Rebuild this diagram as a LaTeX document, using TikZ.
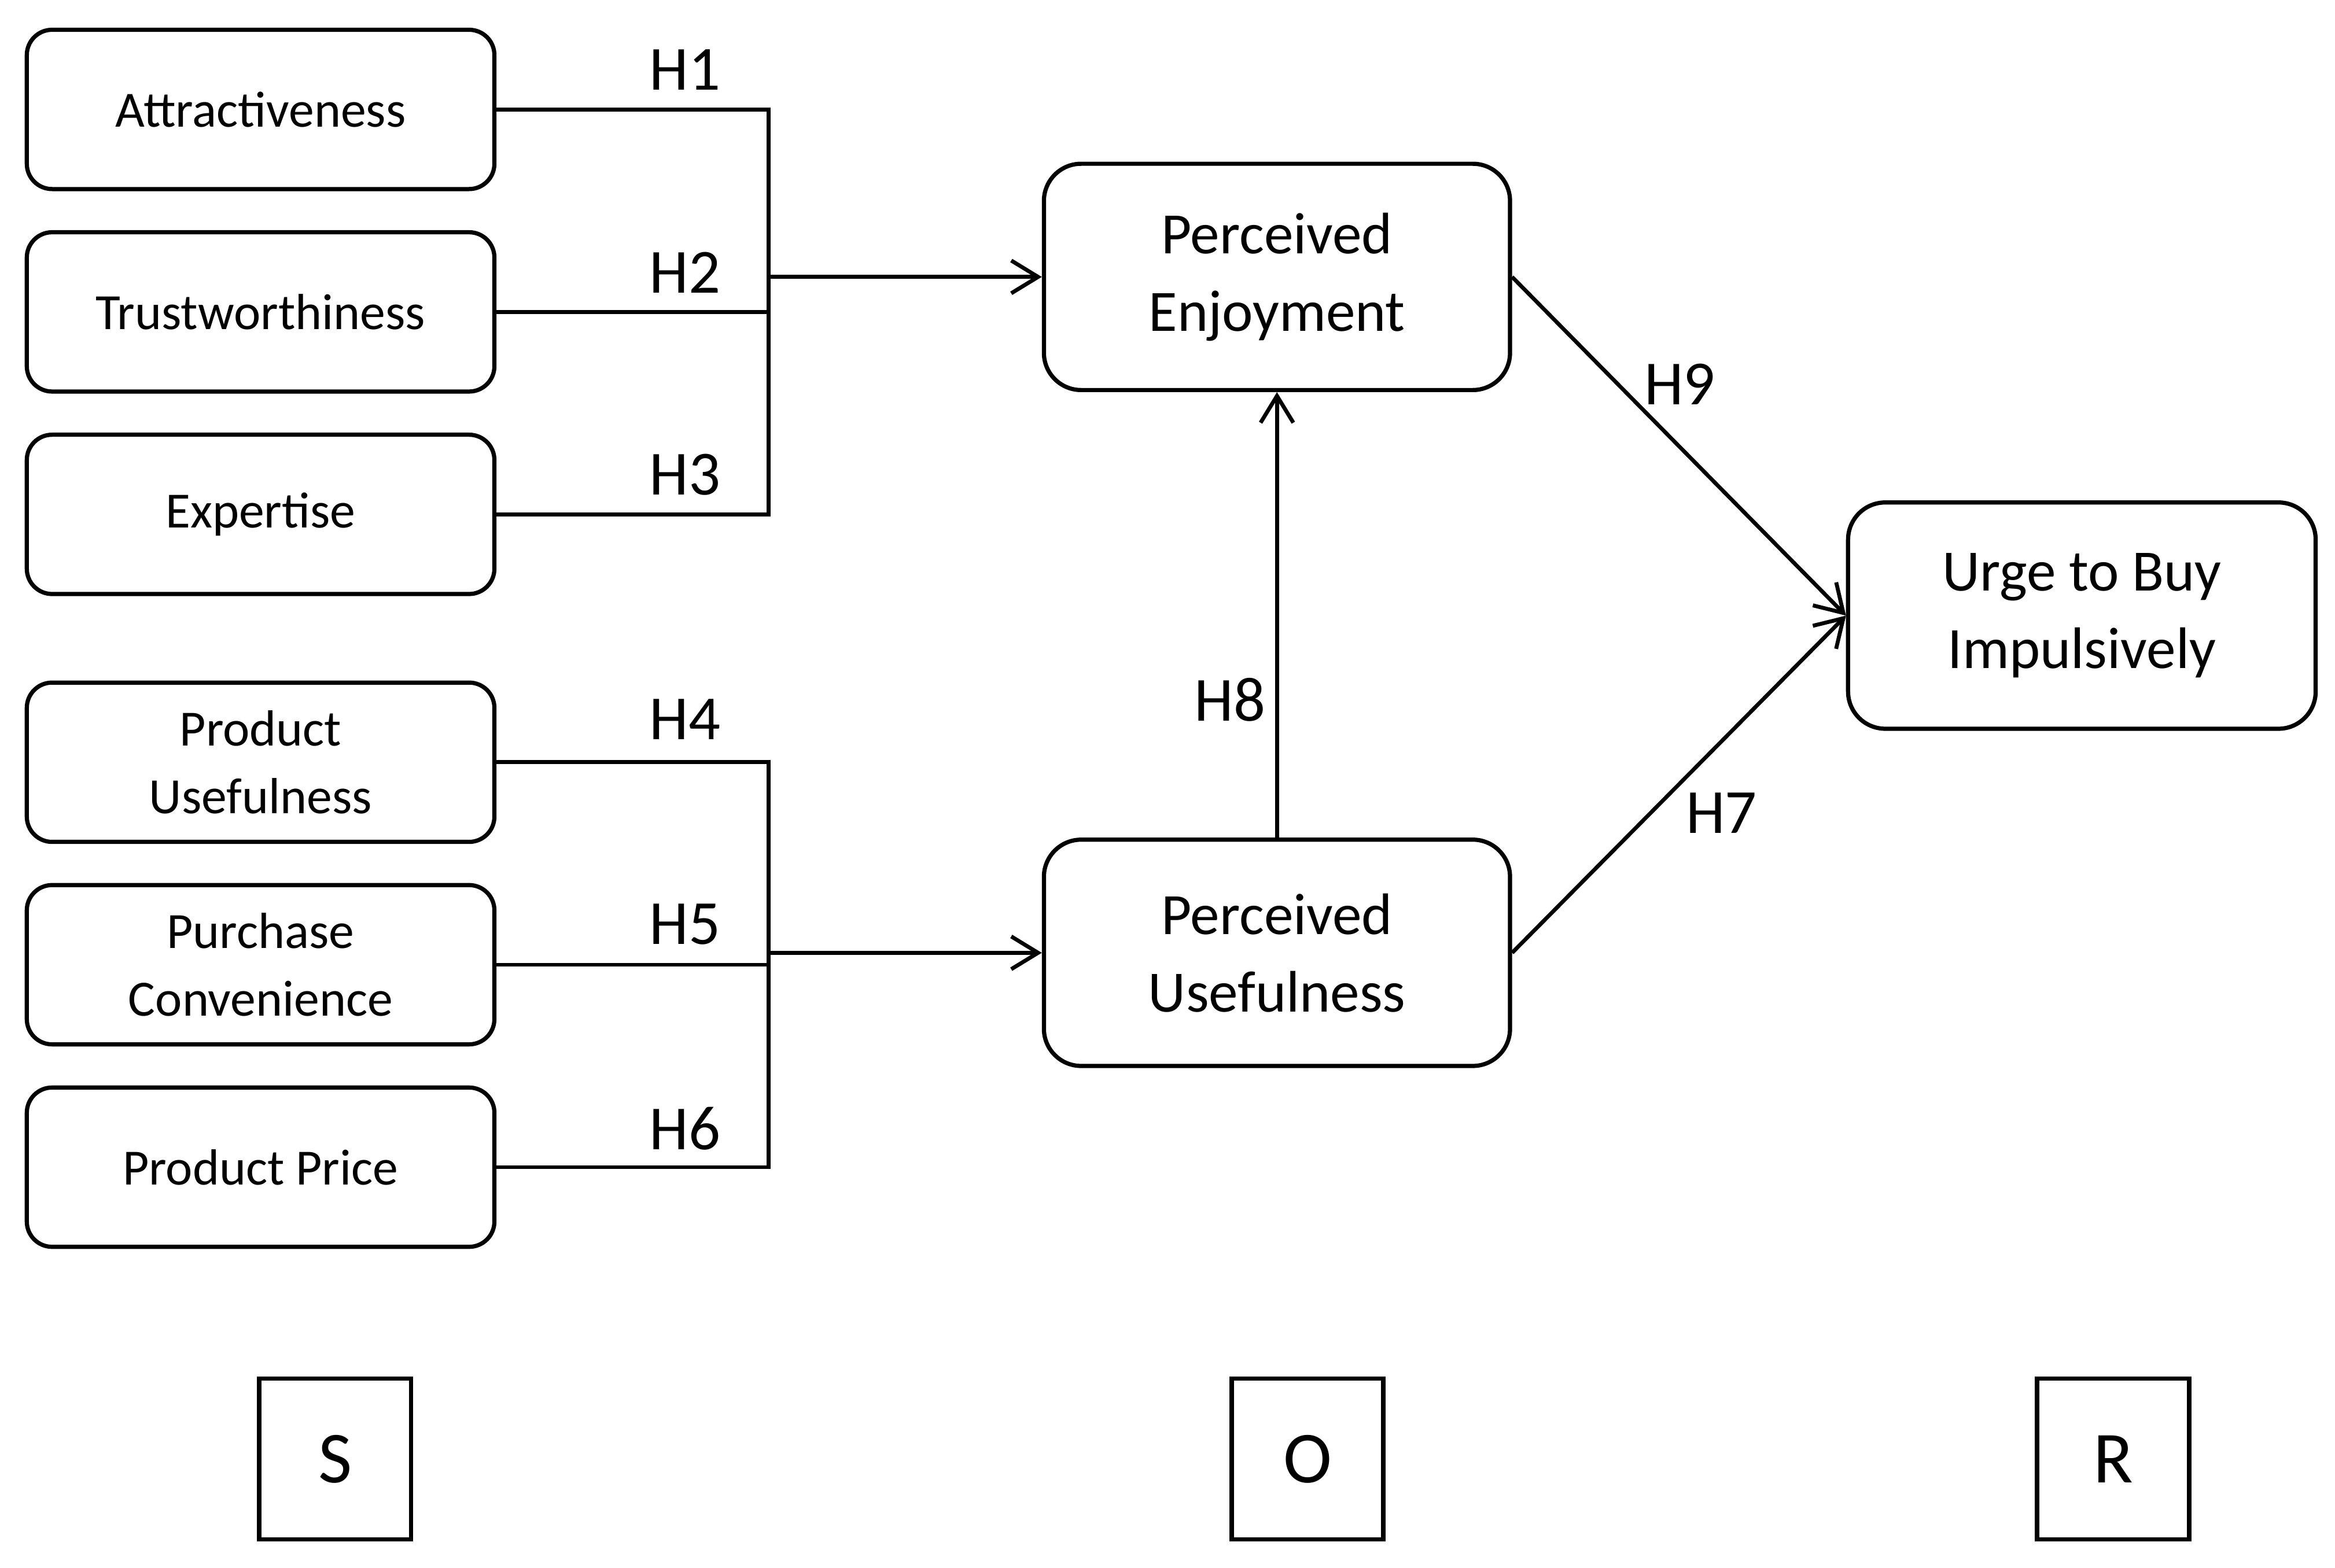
\documentclass[tikz,border=0pt]{standalone}
\usepackage{fontspec}
\setmainfont{Carlito}
\usetikzlibrary{arrows.meta}
\begin{document}
\begin{tikzpicture}[
  smallbox/.style={draw, line width=0.8pt, rounded corners=0.17cm, minimum width=3.14cm, minimum height=1.07cm, align=center, inner sep=0pt, font=\fontsize{9.7}{13}\selectfont},
  bigbox/.style={draw, line width=0.8pt, rounded corners=0.25cm, minimum width=3.13cm, minimum height=1.52cm, align=center, inner sep=0pt, font=\fontsize{11.2}{14.8}\selectfont},
  letterbox/.style={draw, line width=0.85pt, minimum width=1.02cm, minimum height=1.08cm, inner sep=0pt, font=\fontsize{14}{16}\selectfont},
  hlabel/.style={inner sep=0pt, font=\fontsize{12}{14}\selectfont},
  link/.style={line width=0.75pt},
  arr/.style={line width=0.75pt, -{Straight Barb[length=1.8mm, width=2.2mm, line width=0.75pt]}}
]
\useasboundingbox (0,0) rectangle (15.68,10.53);

% stimulus boxes
\node[smallbox] (A) at (1.75,9.795) {Attractiveness};
\node[smallbox] (B) at (1.75,8.435) {Trustworthiness};
\node[smallbox] (C) at (1.75,7.075) {Expertise};
\node[smallbox] (D) at (1.75,5.41) {Product\\Usefulness};
\node[smallbox] (E) at (1.75,4.05) {Purchase\\Convenience};
\node[smallbox] (F) at (1.75,2.69) {Product Price};

% organism and response boxes
\node[bigbox] (PE) at (8.575,8.67) {Perceived\\Enjoyment};
\node[bigbox] (PU) at (8.575,4.13) {Perceived\\Usefulness};
\node[bigbox, minimum width=3.14cm] (UB) at (13.98,6.395) {Urge to Buy\\Impulsively};

% S O R
\node[letterbox] (S) at (2.25,0.73) {S};
\node[letterbox] (O) at (8.78,0.73) {O};
\node[letterbox] (R) at (14.19,0.73) {R};

% junctions
\coordinate (jA) at (5.16,8.67);
\coordinate (jB) at (5.16,4.13);

% buses
\draw[link] (A.east) -| (jA) |- (C.east);
\draw[link] (B.east) -- (B.east -| jA);
\draw[link] (D.east) -| (jB) |- (F.east);
\draw[link] (E.east) -- (E.east -| jB);

% arrows
\draw[arr] (jA) -- (PE.west);
\draw[arr] (jB) -- (PU.west);
\draw[arr] (PU.north) -- (PE.south);
\draw[arr] (PE.east) -- (UB.west);
\draw[arr] (PU.east) -- (UB.west);

% hypothesis labels
\node[hlabel] (h1) at (4.60,10.06) {H1};
\node[hlabel] (h2) at (4.60,8.70) {H2};
\node[hlabel] (h3) at (4.60,7.34) {H3};
\node[hlabel] (h4) at (4.60,5.70) {H4};
\node[hlabel] (h5) at (4.60,4.32) {H5};
\node[hlabel] (h6) at (4.60,2.95) {H6};
\node[hlabel] (h8) at (8.26,5.83) {H8};
\node[hlabel] (h9) at (11.28,7.95) {H9};
\node[hlabel] (h7) at (11.56,5.07) {H7};
\end{tikzpicture}
\end{document}
